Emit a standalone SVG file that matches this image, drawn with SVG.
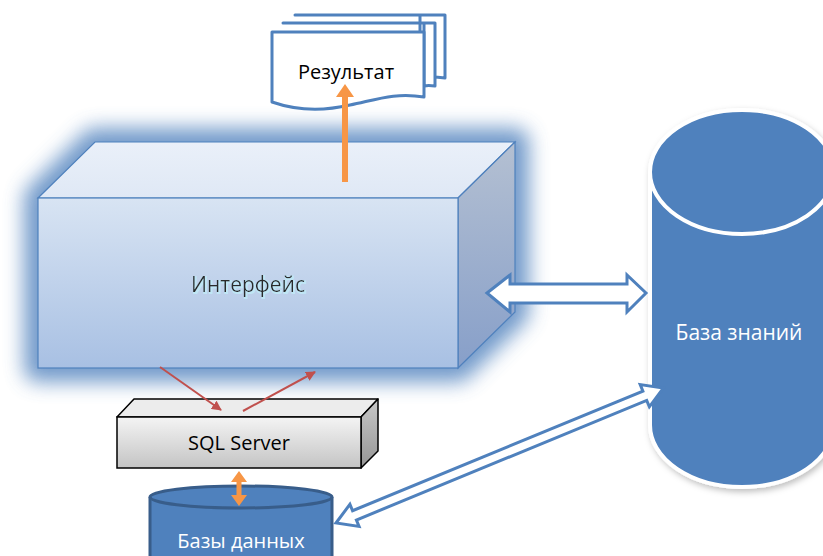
<svg xmlns="http://www.w3.org/2000/svg" width="823" height="556" viewBox="0 0 823 556">
<style>
.doc{fill:#fff;stroke:#4f81bd;stroke-width:3;stroke-linejoin:round}
.hollow{fill:#fff;stroke:#4f81bd;stroke-width:3;stroke-linejoin:miter}
.red{stroke:#c0504d;stroke-width:2;fill:none}
.orange{stroke:#f79646;stroke-width:6;fill:none}
.lbl{font-family:"Open Sans","Liberation Sans",sans-serif}
</style>
<defs>
<linearGradient id="gFront" x1="0" y1="0" x2="0" y2="1"><stop offset="0" stop-color="#d8e4f3"/><stop offset="1" stop-color="#a8c0e3"/></linearGradient>
<linearGradient id="gTop" x1="0" y1="0" x2="0" y2="1"><stop offset="0" stop-color="#eaf0f9"/><stop offset="1" stop-color="#dfe8f5"/></linearGradient>
<linearGradient id="gSide" x1="0" y1="0" x2="0" y2="1"><stop offset="0" stop-color="#b4c0d2"/><stop offset="1" stop-color="#879fc9"/></linearGradient>
<linearGradient id="gSqlF" x1="0" y1="0" x2="0" y2="1"><stop offset="0" stop-color="#f4f4f4"/><stop offset="1" stop-color="#c4c4c4"/></linearGradient>
<linearGradient id="gSqlS" x1="0" y1="0" x2="0" y2="1"><stop offset="0" stop-color="#c8c8c8"/><stop offset="1" stop-color="#959595"/></linearGradient>
<filter id="glow" x="-20%" y="-30%" width="140%" height="160%"><feGaussianBlur stdDeviation="10"/></filter>
<filter id="shadow" x="-20%" y="-20%" width="140%" height="140%"><feDropShadow dx="2" dy="3" stdDeviation="3" flood-color="#000" flood-opacity="0.25"/></filter>
<filter id="txtGlow" x="-20%" y="-50%" width="140%" height="200%"><feMorphology in="SourceAlpha" operator="dilate" radius="1.2" result="d"/><feFlood flood-color="#bfe6f5"/><feComposite in2="d" operator="in" result="g"/><feOffset in="g" dx="1" dy="1" result="o"/><feMerge><feMergeNode in="o"/><feMergeNode in="SourceGraphic"/></feMerge></filter>
<marker id="mRed" viewBox="0 0 10 10" refX="9" refY="5" markerWidth="10" markerHeight="10" markerUnits="userSpaceOnUse" orient="auto"><path d="M0,0 L10,5 L0,10 z" fill="#c0504d"/></marker>
</defs>

<g id="result">
<path class="doc" d="M295,15 H445 V78 Q430,76 420,78 V15 Z"/>
<path class="doc" d="M283,23 H435 V86 Q428,85 424,86 V23 Z"/>
<path class="doc" d="M272,32 H424 V97 C395,92 375,100 350,105 C320,112 295,110 272,102 Z"/>
<text class="lbl" x="346" y="79" font-size="20" text-anchor="middle" fill="#000">Результат</text>
</g>

<g id="interface">
<path d="M95,142 H515 V312 L458,368 H38 V198 Z" fill="#4f81bd" stroke="#4f81bd" stroke-width="28" stroke-linejoin="round" opacity="0.8" filter="url(#glow)"/>
<path d="M38,198 L95,142 H515 L458,198 Z" fill="url(#gTop)" stroke="#4f81bd" stroke-width="1.2"/>
<path d="M458,198 L515,142 V312 L458,368 Z" fill="url(#gSide)" stroke="#4f81bd" stroke-width="1.2"/>
<rect x="38" y="198" width="420" height="170" fill="url(#gFront)" stroke="#4f81bd" stroke-width="1.2"/>
<text class="lbl" x="248" y="292" font-size="21" text-anchor="middle" fill="#2a2a2a" filter="url(#txtGlow)">Интерфейс</text>
</g>

<g id="sql">
<path d="M117,417 L134,399 H378 L361,417 Z" fill="#ececec" stroke="#000" stroke-width="1.5" stroke-linejoin="round"/>
<path d="M361,417 L378,399 V451 L361,468 Z" fill="url(#gSqlS)" stroke="#000" stroke-width="1.5" stroke-linejoin="round"/>
<rect x="117" y="417" width="244" height="51" fill="url(#gSqlF)" stroke="#000" stroke-width="1.5"/>
<text class="lbl" x="239" y="450" font-size="20" text-anchor="middle" fill="#000">SQL Server</text>
</g>

<g id="kb">
<path d="M650,172 A92,62 0 0 1 834,172 V425 A92,62 0 0 1 650,425 Z" fill="#4f81bd" stroke="#fff" stroke-width="4" filter="url(#shadow)"/>
<path d="M650,172 A92,62 0 0 0 834,172" fill="none" stroke="#fff" stroke-width="4"/>
<text class="lbl" x="739" y="340" font-size="21" text-anchor="middle" fill="#fff">База знаний</text>
</g>

<g id="db">
<path d="M150,497 A91,11 0 0 1 332,497 V570 H150 Z" fill="#4f81bd" stroke="#385d8a" stroke-width="3"/>
<path d="M150,497 A91,11 0 0 0 332,497" fill="none" stroke="#385d8a" stroke-width="3"/>
<text class="lbl" x="241" y="548" font-size="20" text-anchor="middle" fill="#fff">Базы данных</text>
</g>

<g id="connectors">
<line class="orange" x1="345" y1="182" x2="345" y2="96"/>
<path d="M336,97 L345,84 L354,97 Z" fill="#f79646"/>
<line class="red" x1="160" y1="367" x2="221" y2="410" marker-end="url(#mRed)"/>
<line class="red" x1="243" y1="411" x2="315" y2="372" marker-end="url(#mRed)"/>
<line stroke="#f79646" stroke-width="5" x1="239" y1="480" x2="239" y2="497"/>
<path d="M231,482 L239,471 L247,482 Z M231,495 L239,506 L247,495 Z" fill="#f79646"/>
<polygon class="hollow" points="487,293 510,275 510,284 627,284 627,275 646,293 627,312 627,303 510,303 510,312"/>
<polygon class="hollow" transform="translate(336,523) rotate(-22.4)" points="0,0 20,-12 20,-5 334,-5 334,-12 354,0 334,12 334,5 20,5 20,12"/>
</g>
</svg>
